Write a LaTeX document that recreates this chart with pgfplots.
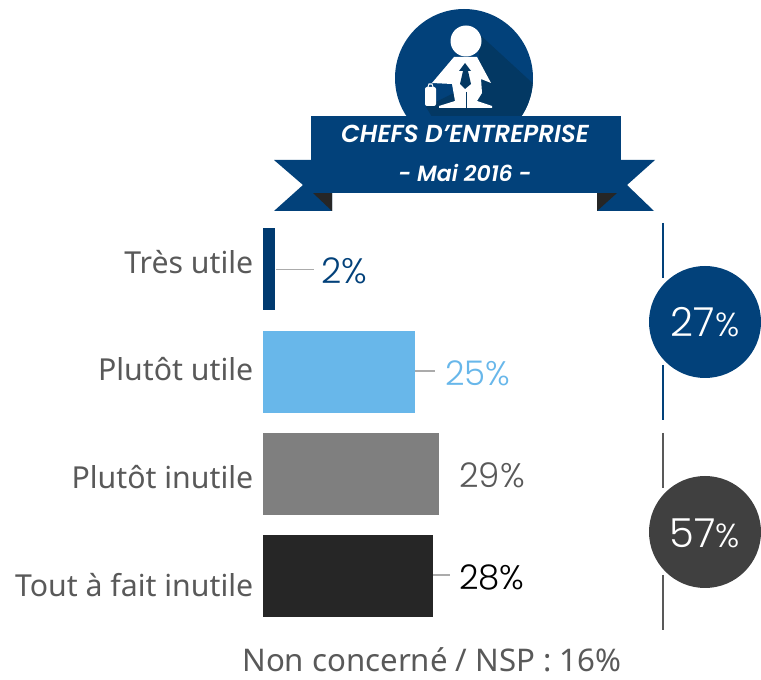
\documentclass[border=0pt]{standalone}
\usepackage{fontspec}
\setmainfont{Noto Sans}
\newfontfamily\numfont{Poppins Light}
\newfontfamily\banfont{Poppins}[UprightFont=* SemiBold,ItalicFont=* SemiBold Italic]
\usepackage{pgfplots}
\pgfplotsset{compat=1.18}
\definecolor{navy}{HTML}{02417A}
\definecolor{navydk}{HTML}{003A70}
\definecolor{navysh}{HTML}{033863}
\definecolor{sky}{HTML}{68B7EA}
\definecolor{midgrey}{HTML}{7F7F7F}
\definecolor{blk}{HTML}{262626}
\definecolor{txt}{HTML}{595959}
\definecolor{dkcirc}{HTML}{404040}
\definecolor{leader}{HTML}{ABABAB}
\begin{document}
\begin{tikzpicture}
\begin{axis}[
    at={(197.25pt,38.6pt)},
    anchor=south west,
    scale only axis,
    width=297.75pt,
    height=306.9pt,
    xmin=0, xmax=65.4,
    ymin=-0.5, ymax=3.5,
    y dir=reverse,
    xbar,
    bar shift=0pt,
    bar width=61.5pt,
    clip=false,
    axis line style={draw=none},
    major tick length=0pt,
    xtick=\empty,
    ytick={-0.07,0.97,2.03,3.08},
    yticklabels={Très utile,Plutôt utile,Plutôt inutile,Tout à fait inutile},
    yticklabel style={font=\fontsize{22.7}{26}\selectfont,text=txt,anchor=east,xshift=-3.75pt},
    point meta=x,
    nodes near coords={\pgfmathprintnumber[assume math mode=true]{\pgfplotspointmeta}\%},
]
\addplot[fill=navydk,draw=none,nodes near coords style={font=\numfont\fontsize{26.5}{28}\selectfont,text=navy,anchor=west,inner sep=0pt,xshift=34.5pt,yshift=-1pt}] coordinates {(2,0)};
\addplot[fill=sky,draw=none,nodes near coords style={font=\numfont\fontsize{25.5}{28}\selectfont,text=sky,anchor=west,inner sep=0pt,xshift=22.5pt,yshift=-1pt}] coordinates {(25,1)};
\addplot[fill=midgrey,draw=none,nodes near coords style={font=\numfont\fontsize{25.5}{28}\selectfont,text=txt,anchor=west,inner sep=0pt,xshift=15pt,yshift=-1pt}] coordinates {(29,2)};
\addplot[fill=blk,draw=none,nodes near coords style={font=\numfont\fontsize{25.5}{28}\selectfont,text=black,anchor=west,inner sep=0pt,xshift=19.5pt,yshift=-1pt}] coordinates {(28,3)};
\end{axis}
\begin{scope}[x=0.75pt,y=-0.75pt,yshift=509.25pt]
\path (0,0) rectangle (761,679);
% leaders
\draw[leader,line width=1.2pt] (276,269.5) -- (314,269.5);
\draw[leader,line width=1.2pt] (415,371) -- (435,371);
\draw[leader,line width=1.2pt] (433,575) -- (450,575);
% bracket lines
\draw[navy,line width=1.2pt] (663,223) -- (663,278) (663,365) -- (663,420);
\draw[txt,line width=1.2pt] (663,433) -- (663,488) (663,575) -- (663,630);
% total circles
\fill[navy] (705,322) circle (56);
\fill[dkcirc] (705,532) circle (56);
\node[text=white,font=\numfont] at (705,322) {\fontsize{30}{33}\selectfont 27\fontsize{25}{28}\selectfont\%};
\node[text=white,font=\numfont] at (705,533) {\fontsize{30}{33}\selectfont 57\fontsize{25}{28}\selectfont\%};
% badge
\fill[navy] (464,78) circle (69);
\begin{scope}
\clip (464,78) circle (69);
\fill[navysh] (478,33) -- (540,90) -- (540,125) -- (437,125) -- (426,107) -- (480,80) -- cycle;
\end{scope}
\fill[white,rounded corners=1.5] (425,87) rectangle (436,106);
\draw[white,line width=0.8pt] (428,87) -- (429,84) -- (432,84) -- (433,87);
\fill[white] (466,41) circle (15.5);
\fill[white] (454,57) -- (477,57) -- (491,83) -- (481,79) -- (482,93) -- (477,101)
  -- (492,106) -- (492,108) -- (439,108) -- (439,106) -- (455,101) -- (452,84)
  -- (432,83) -- cycle;
\fill[navysh] (465,63) -- (471,71) -- (468,71) -- (471,84) -- (465,89) -- (460,84) -- (463,71) -- (459,71) -- cycle;
\draw[navysh,line width=0.6pt] (466,92) -- (466,108);
% ribbon
\fill[navy] (311,160) -- (274,160) -- (303,185) -- (274,211) -- (332,211) -- (332,193) -- (311,193) -- cycle;
\fill[navy] (621,160) -- (655,160) -- (627,185) -- (654,211) -- (597,211) -- (597,193) -- (621,193) -- cycle;
\fill[blk] (313,193) -- (332,193) -- (332,211) -- cycle;
\fill[blk] (617,193) -- (597,193) -- (597,211) -- cycle;
\fill[navy] (311,116) rectangle (621,193);
\node[text=white,font=\banfont\itshape\fontsize{18.4}{22}\selectfont] at (465,134) {CHEFS D’ENTREPRISE};
\node[text=white,font=\banfont\itshape\fontsize{16.5}{20}\selectfont] at (465,173) {- Mai 2016 -};
\node[text=txt,font=\fontsize{23.4}{26}\selectfont,inner sep=0pt] at (432,659.5) {Non concerné / NSP : 16\%};
\end{scope}
\end{tikzpicture}
\end{document}
